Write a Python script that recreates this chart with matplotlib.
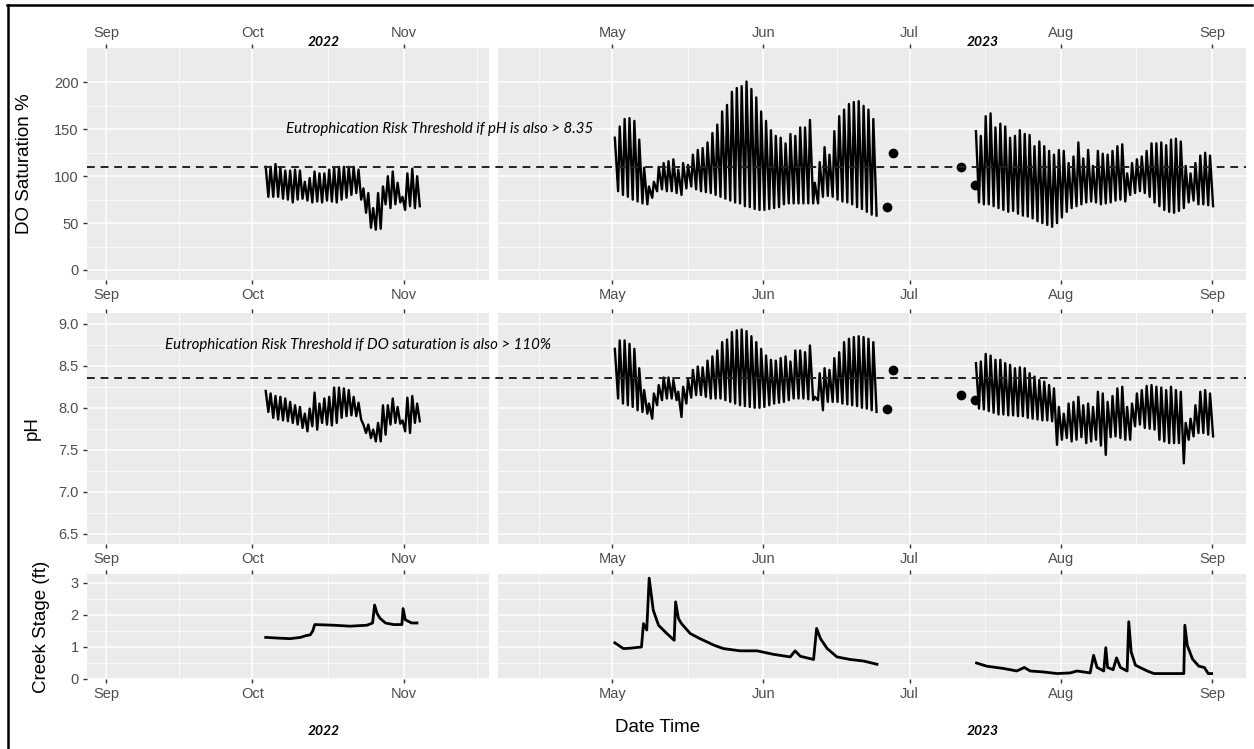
import numpy as np
import pandas as pd
import matplotlib
matplotlib.use("Agg")
import matplotlib.pyplot as plt
import matplotlib.dates as mdates
import matplotlib.transforms as mtransforms
from matplotlib.lines import Line2D

plt.rcParams['font.family'] = ['Liberation Sans', 'DejaVu Sans']

# ---------------- data ----------------
# sonde deployments: one daily high and the following low per day
do_2022_start = "2022-10-03"
do_2022_hi = [110, 110, 113, 109, 106, 106, 107, 106, 94, 98, 105, 103, 103, 107, 109, 110,
              110, 110, 110, 107, 87, 82, 66, 82, 89, 100, 105, 93, 78, 103, 108, 100]
do_2022_lo = [78, 78, 78, 76, 75, 72, 75, 76, 74, 72, 73, 72, 74, 73, 72, 75,
              77, 80, 82, 75, 61, 45, 43, 44, 70, 66, 70, 72, 64, 68, 66, 68]
ph_2022_hi = [8.20, 8.17, 8.14, 8.13, 8.11, 8.07, 8.03, 8.01, 7.93, 7.99, 8.18, 8.05, 8.11, 8.13, 8.24, 8.24,
              8.23, 8.21, 8.13, 8.06, 7.80, 7.80, 7.74, 7.82, 8.03, 8.03, 8.11, 8.01, 7.85, 8.12, 8.14, 8.05]
ph_2022_lo = [7.95, 7.88, 7.86, 7.85, 7.84, 7.82, 7.80, 7.76, 7.72, 7.78, 7.74, 7.82, 7.80, 7.79, 7.82, 7.88,
              7.90, 7.91, 7.90, 7.86, 7.70, 7.64, 7.60, 7.60, 7.68, 7.80, 7.82, 7.81, 7.72, 7.70, 7.82, 7.84]

do_2023a_start = "2023-05-01"
do_2023a_hi = [141, 153, 161, 162, 159, 139, 109, 89, 94, 110, 114, 116, 118, 107, 114, 112, 123, 128,
               130, 136, 146, 155, 169, 176, 190, 194, 196, 201, 193, 184, 169, 159, 149, 143, 141, 135,
               145, 143, 152, 152, 160, 93, 115, 131, 123, 148, 164, 171, 177, 179, 180, 175, 171, 161]
do_2023a_lo = [84, 80, 78, 75, 73, 71, 70, 77, 84, 86, 84, 84, 82, 80, 87, 89, 86, 84,
               83, 82, 80, 78, 76, 74, 72, 71, 68, 67, 65, 64, 64, 65, 66, 67, 70, 71,
               71, 71, 71, 71, 71, 71, 78, 79, 78, 75, 73, 72, 70, 67, 65, 62, 59, 58]
ph_2023a_hi = [8.70, 8.80, 8.80, 8.76, 8.70, 8.47, 8.21, 8.05, 8.17, 8.27, 8.36, 8.36, 8.33, 8.19, 8.25, 8.34, 8.45, 8.49,
               8.48, 8.56, 8.61, 8.68, 8.78, 8.81, 8.90, 8.92, 8.93, 8.91, 8.85, 8.78, 8.70, 8.62, 8.57, 8.56, 8.59, 8.61,
               8.55, 8.68, 8.68, 8.66, 8.74, 8.13, 8.41, 8.47, 8.45, 8.59, 8.66, 8.78, 8.82, 8.84, 8.85, 8.84, 8.82, 8.78]
ph_2023a_lo = [8.11, 8.05, 8.03, 8.01, 7.97, 7.95, 7.93, 7.87, 8.03, 8.09, 8.11, 8.11, 8.09, 7.89, 8.05, 8.12, 8.15, 8.15,
               8.13, 8.11, 8.11, 8.11, 8.09, 8.07, 8.05, 8.03, 8.02, 8.01, 8.00, 8.00, 8.01, 8.03, 8.05, 8.06, 8.07, 8.09,
               8.11, 8.11, 8.11, 8.10, 8.09, 8.09, 7.97, 8.07, 8.07, 8.07, 8.05, 8.04, 8.03, 8.02, 8.00, 7.99, 7.97, 7.95]

do_2023b_start = "2023-07-14"
do_2023b_hi = [148, 143, 164, 167, 152, 156, 153, 141, 143, 149, 145, 144, 132, 137, 132, 127, 123,
               128, 127, 114, 121, 136, 119, 128, 111, 127, 124, 123, 127, 132, 134, 103, 114,
               118, 121, 127, 135, 135, 136, 133, 139, 140, 137, 111, 103, 114, 122, 125, 122]
do_2023b_lo = [72, 70, 70, 68, 66, 64, 62, 63, 60, 58, 57, 55, 52, 50, 48, 46, 50,
               56, 62, 66, 68, 70, 72, 73, 72, 70, 71, 72, 74, 75, 73, 80, 82,
               84, 82, 78, 72, 68, 64, 62, 61, 63, 66, 72, 74, 70, 70, 69, 68]
ph_2023b_hi = [8.53, 8.55, 8.64, 8.62, 8.57, 8.57, 8.53, 8.51, 8.47, 8.48, 8.47, 8.41, 8.37, 8.33, 8.31, 8.27, 8.23,
               8.01, 7.93, 8.05, 8.07, 8.13, 8.03, 8.05, 8.01, 8.19, 8.17, 8.07, 8.14, 8.23, 8.25, 8.01, 8.05,
               8.17, 8.21, 8.26, 8.27, 8.25, 8.24, 8.21, 8.25, 8.21, 8.19, 7.82, 7.87, 8.03, 8.19, 8.21, 8.17]
ph_2023b_lo = [7.99, 7.98, 7.96, 7.94, 7.92, 7.92, 7.91, 7.91, 7.90, 7.90, 7.88, 7.87, 7.86, 7.85, 7.85, 7.84, 7.56,
               7.62, 7.64, 7.60, 7.62, 7.65, 7.58, 7.60, 7.62, 7.55, 7.44, 7.65, 7.66, 7.64, 7.62, 7.62, 7.78,
               7.80, 7.76, 7.75, 7.74, 7.62, 7.60, 7.58, 7.58, 7.58, 7.34, 7.62, 7.66, 7.70, 7.70, 7.68, 7.66]

# single spot readings between deployments
spot_times = ["2023-06-26 07:00", "2023-06-27 13:00", "2023-07-11 11:00", "2023-07-14 08:00"]
spot_do = [67, 125, 110, 91]
spot_ph = [7.985, 8.45, 8.15, 8.09]

# creek stage (ft)
stage_2022_t = ["2022-10-03 17:00", "2022-10-06 00:00", "2022-10-08 16:00", "2022-10-10 20:00",
                "2022-10-11 20:00", "2022-10-12 20:00", "2022-10-13 08:00", "2022-10-13 18:00",
                "2022-10-17 14:00", "2022-10-21 00:00", "2022-10-24 10:00", "2022-10-25 14:00",
                "2022-10-26 00:00", "2022-10-26 12:00", "2022-10-27 02:00", "2022-10-28 05:00",
                "2022-10-29 22:00", "2022-10-31 14:00", "2022-10-31 20:00", "2022-11-01 07:00",
                "2022-11-02 14:00", "2022-11-03 16:00"]
stage_2022 = [1.30, 1.28, 1.26, 1.30, 1.35, 1.38, 1.50, 1.70, 1.68, 1.65, 1.68, 1.75,
              2.31, 2.05, 1.90, 1.75, 1.70, 1.70, 2.20, 1.85, 1.75, 1.75]

stage_2023a_t = ["2023-05-01 13:00", "2023-05-03 07:00", "2023-05-04 14:00", "2023-05-07 00:00",
                 "2023-05-07 10:00", "2023-05-08 02:00", "2023-05-08 14:00", "2023-05-09 10:00",
                 "2023-05-10 12:00", "2023-05-12 05:00", "2023-05-13 17:00", "2023-05-14 00:00",
                 "2023-05-14 14:00", "2023-05-15 05:00", "2023-05-17 00:00", "2023-05-19 00:00",
                 "2023-05-20 10:00", "2023-05-21 19:00", "2023-05-23 19:00", "2023-05-27 05:00",
                 "2023-05-30 17:00", "2023-06-03 02:00", "2023-06-06 12:00", "2023-06-07 12:00",
                 "2023-06-08 14:00", "2023-06-11 07:00", "2023-06-11 22:00", "2023-06-12 17:00",
                 "2023-06-14 02:00", "2023-06-16 02:00", "2023-06-18 19:00", "2023-06-21 14:00",
                 "2023-06-24 07:00"]
stage_2023a = [1.13, 0.95, 0.96, 1.00, 1.73, 1.53, 3.15, 2.15, 1.68, 1.42, 1.21, 2.41,
               1.89, 1.73, 1.42, 1.26, 1.16, 1.06, 0.95, 0.88, 0.88, 0.77, 0.69, 0.88,
               0.71, 0.61, 1.58, 1.26, 0.95, 0.69, 0.61, 0.56, 0.46]

stage_2023b_t = ["2023-07-14 17:00", "2023-07-16 19:00", "2023-07-20 05:00", "2023-07-22 23:00",
                 "2023-07-24 12:00", "2023-07-25 17:00", "2023-07-28 10:00", "2023-07-31 05:00",
                 "2023-08-02 22:00", "2023-08-04 07:00", "2023-08-07 00:00", "2023-08-07 17:00",
                 "2023-08-08 10:00", "2023-08-09 19:00", "2023-08-10 05:00", "2023-08-10 14:00",
                 "2023-08-11 17:00", "2023-08-12 10:00", "2023-08-13 05:00", "2023-08-14 14:00",
                 "2023-08-14 22:00", "2023-08-15 10:00", "2023-08-16 07:00", "2023-08-18 17:00",
                 "2023-08-20 02:00", "2023-08-23 12:00", "2023-08-26 05:00", "2023-08-26 10:00",
                 "2023-08-26 22:00", "2023-08-28 00:00", "2023-08-29 07:00", "2023-08-30 10:00",
                 "2023-08-31 05:00", "2023-08-31 22:00"]
stage_2023b = [0.50, 0.40, 0.33, 0.25, 0.36, 0.25, 0.22, 0.17, 0.19, 0.25, 0.19, 0.74,
               0.36, 0.25, 0.98, 0.36, 0.29, 0.66, 0.36, 0.25, 1.79, 0.84, 0.43, 0.25,
               0.17, 0.17, 0.17, 1.68, 1.05, 0.62, 0.40, 0.36, 0.17, 0.17]

years = ["2022", "2023"]
row_titles = ["DO Saturation %", "pH", "Creek Stage (ft)"]


def to_num(ts):
    return mdates.date2num(pd.to_datetime(ts).to_pydatetime())


def daily_swing(start, hi, lo, peak_hr, low_hr):
    # high in the afternoon, low the next morning
    t0 = pd.Timestamp(start)
    times, vals = [], []
    for i, (h, l) in enumerate(zip(hi, lo)):
        times += [t0 + pd.Timedelta(days=i, hours=peak_hr), t0 + pd.Timedelta(days=i, hours=low_hr)]
        vals += [h, l]
    return to_num(times), vals


W, H = 1254, 749
fig = plt.figure(figsize=(W / 100, H / 100), dpi=100)


def px_box(x0, x1, y0, y1):
    return [x0 / W, 1 - y1 / H, (x1 - x0) / W, (y1 - y0) / H]


rows = [(48, 280), (313, 544), (574, 679)]
cols = [(87, 489), (498, 1246)]
xlims = [(to_num("2022-08-28 03:00"), to_num("2022-11-18 10:00")),
         (to_num("2023-04-07 14:00"), to_num("2023-09-07 23:00"))]
months = [pd.date_range("2022-08-01", "2022-12-01", freq="MS"),
          pd.date_range("2023-04-01", "2023-10-01", freq="MS")]
ylims = [(-10.7, 236.7), (6.381, 9.126), (0.0, 3.28)]
yticks = [np.arange(0, 201, 50), np.arange(6.5, 9.01, 0.5), np.arange(0, 3.1, 1)]
ytick_fmt = ["{:.0f}", "{:.1f}", "{:.0f}"]
thresholds = [110, 8.35, None]

axes = [[None, None] for _ in rows]
for r, (y0, y1) in enumerate(rows):
    for c, (x0, x1) in enumerate(cols):
        ax = fig.add_axes(px_box(x0, x1, y0, y1))
        axes[r][c] = ax
        ax.set_facecolor('#EBEBEB')
        for s in ax.spines.values():
            s.set_visible(False)
        m = to_num(months[c])
        ax.set_xticks(m)
        ax.set_xticklabels([d.strftime('%b') for d in months[c]])
        ax.set_xticks((m[:-1] + m[1:]) / 2, minor=True)
        ax.set_xlim(*xlims[c])
        yt = yticks[r]
        ax.set_yticks(yt)
        ax.set_yticklabels([ytick_fmt[r].format(v) for v in yt])
        ax.set_yticks((yt[:-1] + yt[1:]) / 2, minor=True)
        ax.set_ylim(*ylims[r])
        ax.grid(which='major', color='white', lw=1.1)
        ax.grid(which='minor', color='white', lw=0.55)
        ax.set_axisbelow(True)
        ax.tick_params(which='major', length=3, width=1, color='#333333',
                       labelcolor='#4D4D4D', labelsize=10.5, pad=3)
        ax.tick_params(which='minor', length=0)
        ax.tick_params(axis='x', top=True, bottom=True, labeltop=(r == 0), labelbottom=True)
        if c == 1:
            ax.tick_params(axis='y', left=False, labelleft=False)

# label x positions (right edge of rotated title, axes fraction)
ylab_x = [-0.135, -0.115, -0.092]
for r in range(3):
    axes[r][0].set_ylabel(row_titles[r], fontsize=13.5, color='black')
    axes[r][0].yaxis.set_label_coords(ylab_x[r], 0.5)

# DO + pH deployments
segments = [
    (0, do_2022_start, do_2022_hi, do_2022_lo, ph_2022_hi, ph_2022_lo, 17, 30),
    (1, do_2023a_start, do_2023a_hi, do_2023a_lo, ph_2023a_hi, ph_2023a_lo, 13, 29),
    (1, do_2023b_start, do_2023b_hi, do_2023b_lo, ph_2023b_hi, ph_2023b_lo, 14, 29),
]
for c, start, dhi, dlo, phi, plo, hp, lp in segments:
    t, v = daily_swing(start, dhi, dlo, hp, lp)
    axes[0][c].plot(t, v, color='black', lw=1.7)
    t, v = daily_swing(start, phi, plo, hp, lp)
    axes[1][c].plot(t, v, color='black', lw=1.7)

axes[0][1].plot(to_num(spot_times), spot_do, 'o', color='black', ms=6)
axes[1][1].plot(to_num(spot_times), spot_ph, 'o', color='black', ms=6)

axes[2][0].plot(to_num(stage_2022_t), stage_2022, color='black', lw=2)
axes[2][1].plot(to_num(stage_2023a_t), stage_2023a, color='black', lw=2)
axes[2][1].plot(to_num(stage_2023b_t), stage_2023b, color='black', lw=2)

# threshold lines run across both columns
for r, thr in enumerate(thresholds):
    if thr is None:
        continue
    tr = mtransforms.blended_transform_factory(fig.transFigure, axes[r][0].transData)
    fig.add_artist(Line2D([cols[0][0] / W, cols[1][1] / W], [thr, thr], transform=tr,
                          color='#222222', lw=1.4, dashes=(4, 3)))

ann_font = dict(family=['Lato', 'DejaVu Sans'], style='italic', fontsize=10.8, color='black')
fig.text(286 / W, 1 - 129 / H, "Eutrophication Risk Threshold if pH is also > 8.35",
         ha='left', va='center', **ann_font)
fig.text(165 / W, 1 - 345 / H, "Eutrophication Risk Threshold if DO saturation is also > 110%",
         ha='left', va='center', **ann_font)
arrow = dict(arrowstyle="-|>,head_length=0.5,head_width=0.25", color='black', lw=0.9,
             mutation_scale=12, shrinkA=0, shrinkB=0)
axes[0][0].annotate("", xy=(550 / W, 1 - 160 / H), xytext=(539 / W, 1 - 139 / H),
                    xycoords='figure fraction', textcoords='figure fraction',
                    arrowprops=arrow, annotation_clip=False)
axes[1][0].annotate("", xy=(557 / W, 1 - 370 / H), xytext=(547 / W, 1 - 347 / H),
                    xycoords='figure fraction', textcoords='figure fraction',
                    arrowprops=arrow, annotation_clip=False)

year_font = dict(family=['Lato', 'DejaVu Sans'], style='italic', weight='bold', fontsize=10)
for yr, xc in zip(years, [324, 983]):
    fig.text(xc / W, 1 - 42 / H, yr, ha='center', va='center', **year_font)
    fig.text(xc / W, 1 - 731 / H, yr, ha='center', va='center', **year_font)

fig.text(658 / W, 1 - 728 / H, "Date Time", ha='center', va='center', fontsize=13.5)

# frame around the figure
fig.add_artist(Line2D([7.5 / W, 7.5 / W], [-0.01, 1 - 5.3 / H], color='black', lw=1.8))
fig.add_artist(Line2D([6.6 / W, 1252 / W], [1 - 5.3 / H, 1 - 5.3 / H], color='black', lw=1.8))

fig.savefig("out.png", dpi=100)
